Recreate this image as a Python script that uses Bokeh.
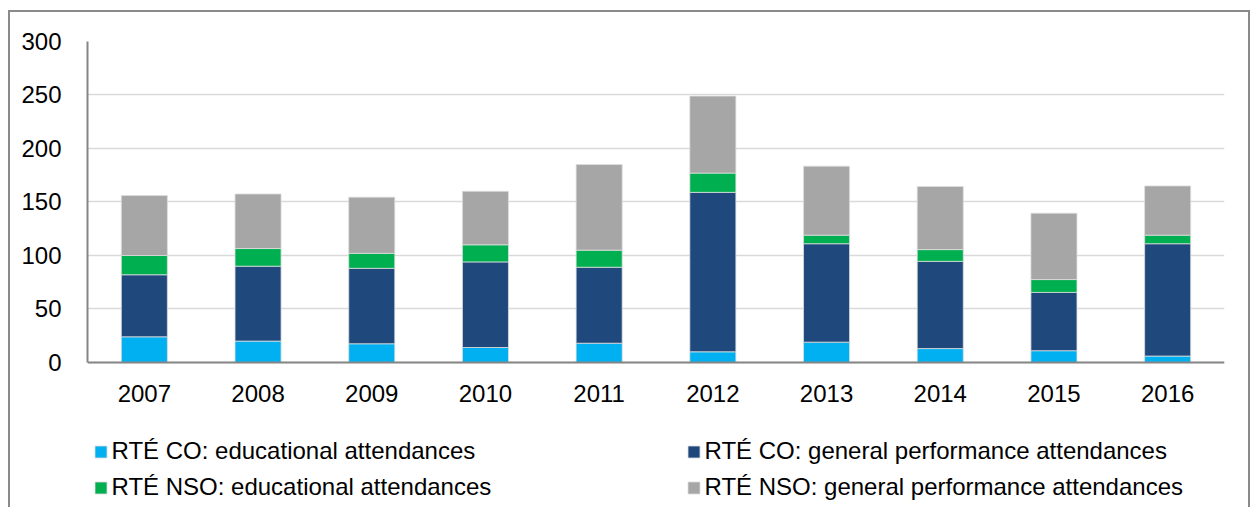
from bokeh.plotting import figure
from bokeh.models import Range1d, FixedTicker, Legend, LegendItem
from bokeh.embed import file_html
from bokeh.resources import INLINE

years = ["2007", "2008", "2009", "2010", "2011", "2012", "2013", "2014", "2015", "2016"]
co_edu = [24, 20, 17.5, 14, 18, 10, 19, 13, 11, 6]
co_gen = [58, 70, 70.5, 80, 71, 149, 92, 81.5, 54.5, 105]
nso_edu = [18, 16.5, 14, 16, 16, 18, 8, 11, 12, 8]
nso_gen = [56, 51, 52.5, 50, 80, 72, 64.5, 59, 62, 46]
series_names = [
    "RTÉ CO: educational attendances",
    "RTÉ CO: general performance attendances",
    "RTÉ NSO: educational attendances",
    "RTÉ NSO: general performance attendances",
]
y_ticks = [0, 50, 100, 150, 200, 250, 300]

colors = ["#00B0F0", "#1F497D", "#00B050", "#A6A6A6"]
FONT = "Liberation Sans"
FS = "24px"

keys = ["co_edu", "co_gen", "nso_edu", "nso_gen"]
data = dict(years=years, co_edu=co_edu, co_gen=co_gen, nso_edu=nso_edu, nso_gen=nso_gen)

# frame extends below zero to hold the legend; x axis is pinned at y=0
p = figure(
    x_range=years,
    y_range=Range1d(-137.4, 300),
    width=1242,
    height=497,
    output_backend="svg",
    toolbar_location=None,
    min_border_left=77,
    min_border_top=29,
    min_border_right=28,
    min_border_bottom=0,
)
p.styles = {
    "margin-left": "8px",
    "margin-top": "10px",
    "border-top": "2px solid #8a8a8a",
    "border-left": "2px solid #8a8a8a",
    "border-right": "2px solid #8a8a8a",
}
p.outline_line_color = None
p.background_fill_color = "white"
p.border_fill_color = "white"

renderers = p.vbar_stack(
    keys, x="years", width=0.405, color=colors, source=data,
    line_color="#DDDDDD", line_width=0.8,
)

p.xgrid.grid_line_color = None
p.ygrid.grid_line_color = "#D9D9D9"
p.ygrid.grid_line_width = 1.6
p.yaxis.ticker = FixedTicker(ticks=y_ticks)
p.yaxis.bounds = (0, 300)
p.xaxis.fixed_location = 0

for ax in (p.xaxis[0], p.yaxis[0]):
    ax.axis_line_color = "#868686"
    ax.axis_line_width = 2
    ax.major_tick_line_color = None
    ax.minor_tick_line_color = None
    ax.major_label_text_font = FONT
    ax.major_label_text_font_size = FS
    ax.major_label_text_color = "black"
p.yaxis.major_label_standoff = 20
p.xaxis.major_label_standoff = 17

cols = [(0, 2, 5.5), (1, 3, 598.5)]
for a, b, x in cols:
    lg = Legend(
        items=[LegendItem(label=series_names[a], renderers=[renderers[a]]),
               LegendItem(label=series_names[b], renderers=[renderers[b]])],
        location=(x, 7), orientation="vertical",
    )
    lg.label_text_font = FONT
    lg.label_text_font_size = FS
    lg.label_text_color = "black"
    lg.glyph_width = 15
    lg.glyph_height = 15
    lg.label_standoff = 4
    lg.label_height = 30
    lg.spacing = 6
    lg.padding = 0
    lg.margin = 0
    lg.border_line_color = None
    lg.background_fill_alpha = 0
    p.add_layout(lg, "center")

open("out.html", "w").write(file_html(p, INLINE))
